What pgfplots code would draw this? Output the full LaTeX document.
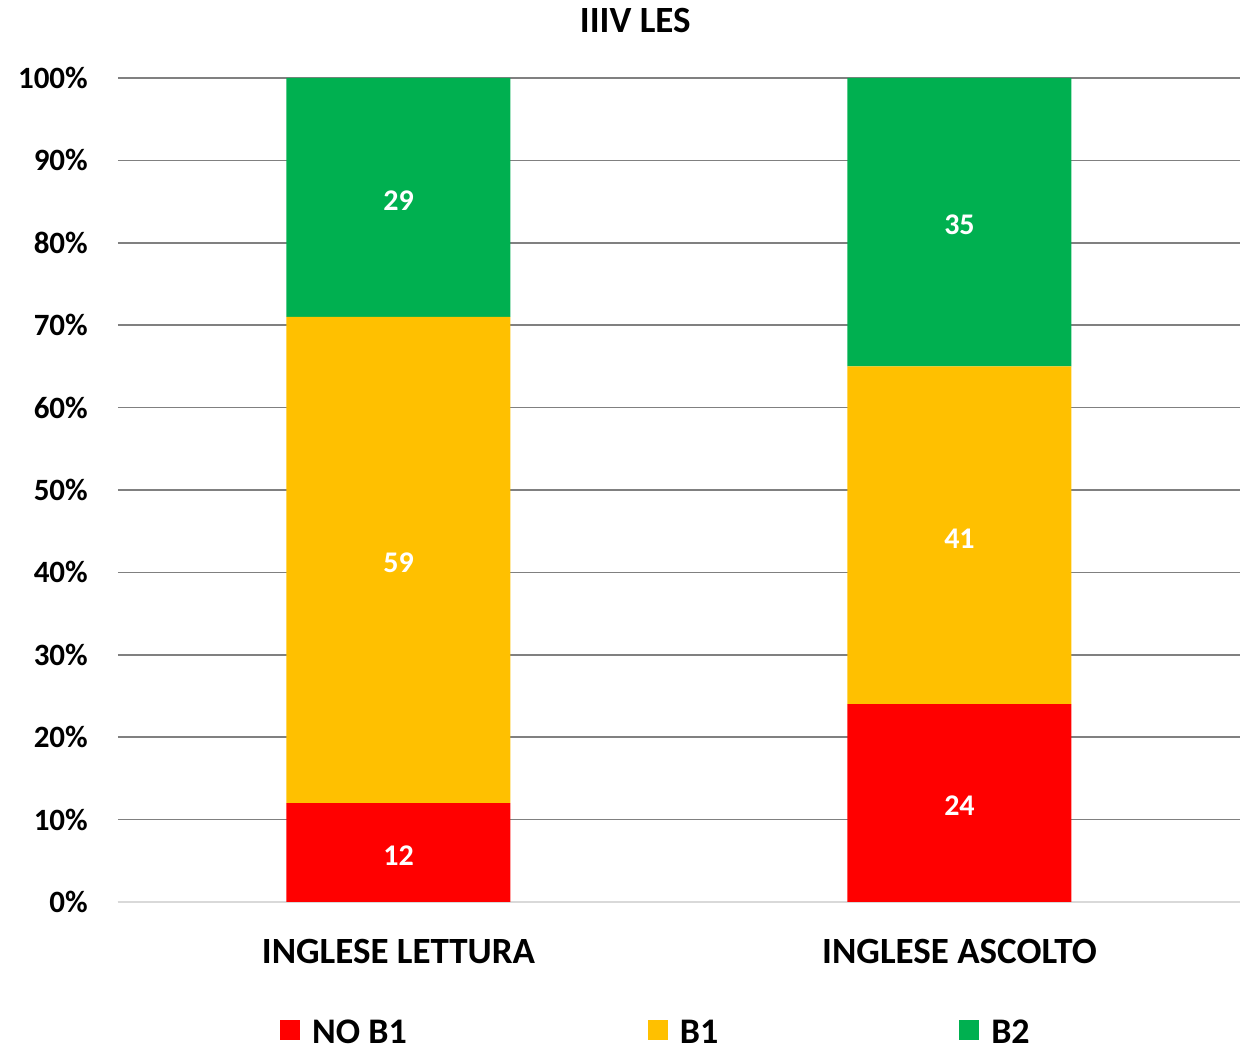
\documentclass[border=0pt]{standalone}
\usepackage{fontspec}
\setmainfont{Carlito}
\usepackage{pgfplots}
\pgfplotsset{compat=1.18}
\definecolor{cRed}{HTML}{FF0000}
\definecolor{cYel}{HTML}{FFC000}
\definecolor{cGrn}{HTML}{00B050}
\definecolor{cGrid}{HTML}{808080}
\definecolor{cAxis}{HTML}{D9D9D9}
\begin{document}
\begin{tikzpicture}
\begin{axis}[
  scale only axis, width=1122pt, height=824pt,
  ybar stacked, bar width=224pt,
  xmin=-0.5, xmax=1.5, ymin=0, ymax=100,
  xtick={0,1}, xticklabels={INGLESE LETTURA, INGLESE ASCOLTO},
  ytick={0,10,...,100},
  yticklabels={0\%,10\%,20\%,30\%,40\%,50\%,60\%,70\%,80\%,90\%,100\%},
  /pgf/number format/assume math mode=true,
  axis lines*=left,
  y axis line style={draw=none},
  x axis line style={draw=cAxis, line width=2pt, -},
  major tick length=0pt,
  ymajorgrids, grid style={cGrid, line width=1.6pt},
  yticklabel style={inner sep=0pt, xshift=-30pt, font=\fontsize{31}{36}\selectfont\bfseries},
  xticklabel style={inner sep=0pt, yshift=-37pt, font=\fontsize{37}{42}\selectfont\bfseries},
  title={IIIV LES},
  title style={at={(0.461,1)}, anchor=base, yshift=39pt, inner sep=0pt, font=\fontsize{37}{42}\selectfont\bfseries},
  visualization depends on=rawy \as \rawy,
  nodes near coords={\pgfmathprintnumber{\rawy}},
  every node near coord/.append style={anchor=center, text=white, yshift=-3pt,
     font=\fontsize{30}{34}\selectfont\bfseries},
  legend columns=3,
  legend style={at={(rel axis cs:0.1444,-0.1580)}, anchor=west, draw=none, inner sep=0pt,
     font=\fontsize{36}{40}\selectfont\bfseries, nodes={inner sep=0pt},
     /tikz/every odd column/.append style={column sep=12pt},
     /tikz/every even column/.append style={column sep=241pt}},
  legend image code/.code={\fill[#1] (0pt,-8pt) rectangle (20pt,12pt);},
]
\addplot[fill=cRed, draw=none] coordinates {(0,12) (1,24)};
\addplot[fill=cYel, draw=none] coordinates {(0,59) (1,41)};
\addplot[fill=cGrn, draw=none] coordinates {(0,29) (1,35)};
\legend{NO B1, B1, B2}
\coordinate (BL) at (rel axis cs:0,0);
\end{axis}
\pgfresetboundingbox
\path ([shift={(-118pt,-149pt)}]BL) rectangle ++(1245pt,1051pt);
\end{tikzpicture}
\end{document}
